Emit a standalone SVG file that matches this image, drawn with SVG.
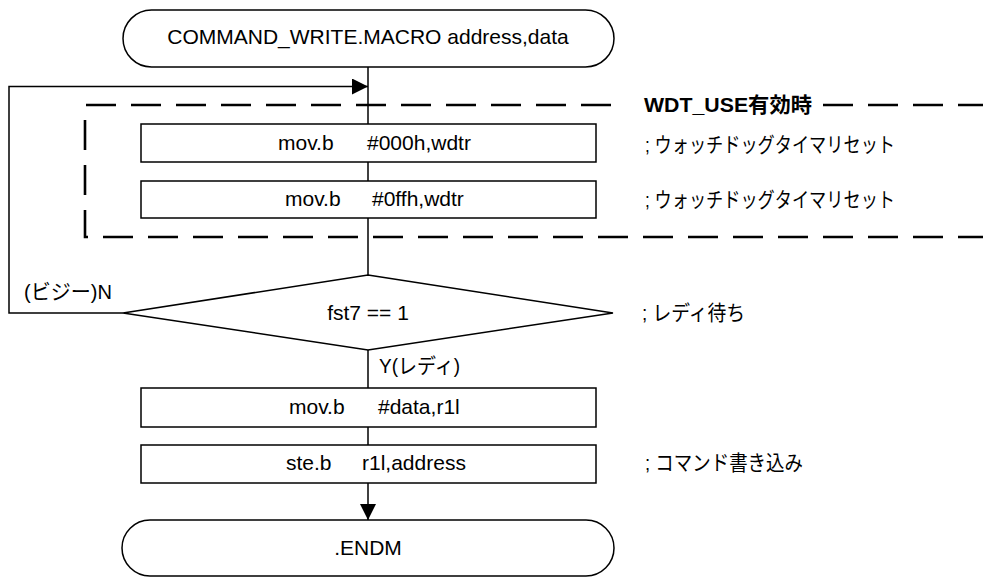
<svg xmlns="http://www.w3.org/2000/svg" width="983" height="578" viewBox="0 0 983 578">
<style>
.shape{fill:#fff;stroke:#000;stroke-width:1.5}
.ln{fill:none;stroke:#000;stroke-width:1.5}
.dash{fill:none;stroke:#000;stroke-width:2.6;stroke-dasharray:30 15}
text{font-family:"Liberation Sans",Arial,"Noto Sans CJK JP",sans-serif;font-size:21px;fill:#000}
.b{font-weight:bold}
</style>
<defs>
<marker id="arr" viewBox="0 0 16 16" refX="16" refY="8" markerWidth="16" markerHeight="16" markerUnits="userSpaceOnUse" orient="auto">
<path d="M0,0 L16,8 L0,16 Z" fill="#000"/>
</marker>
</defs>
<rect width="983" height="578" fill="#fff"/>

<g id="wdt-region">
<line class="dash" x1="86" y1="105" x2="622" y2="105"/>
<line class="dash" x1="823" y1="105" x2="983" y2="105"/>
<path class="dash" d="M85,120 L85,237 L983,237"/>
<text class="b" x="644" y="112" textLength="168" lengthAdjust="spacingAndGlyphs">WDT_USE有効時</text>
</g>

<g id="connectors">
<line class="ln" x1="368" y1="67" x2="368" y2="124"/>
<line class="ln" x1="368" y1="162" x2="368" y2="181"/>
<line class="ln" x1="368" y1="218" x2="368" y2="275"/>
<line class="ln" x1="368" y1="350" x2="368" y2="388"/>
<line class="ln" x1="368" y1="427" x2="368" y2="445"/>
<line class="ln" x1="368" y1="483" x2="368" y2="520" marker-end="url(#arr)"/>
<polyline class="ln" points="123,313 9,313 9,86.5 368,86.5" marker-end="url(#arr)"/>
<text x="24" y="299" textLength="88" lengthAdjust="spacingAndGlyphs">(ビジー)N</text>
<text x="379" y="373" textLength="81" lengthAdjust="spacingAndGlyphs">Y(レディ)</text>
</g>

<g id="start">
<rect class="shape" x="123" y="10" width="491" height="57" rx="28.5" ry="28.5"/>
<text x="368" y="44" text-anchor="middle">COMMAND_WRITE.MACRO address,data</text>
</g>

<g id="wdt1">
<rect class="shape" x="141" y="124" width="455" height="38"/>
<text y="150"><tspan x="278">mov.b</tspan><tspan x="367">#000h,wdtr</tspan></text>
<text x="645" y="152" textLength="250" lengthAdjust="spacingAndGlyphs">; ウォッチドッグタイマリセット</text>
</g>

<g id="wdt2">
<rect class="shape" x="141" y="181" width="455" height="37"/>
<text y="206"><tspan x="285">mov.b</tspan><tspan x="372">#0ffh,wdtr</tspan></text>
<text x="645" y="207" textLength="250" lengthAdjust="spacingAndGlyphs">; ウォッチドッグタイマリセット</text>
</g>

<g id="decision">
<polygon class="shape" points="368,275 613,313 368,350 123,313"/>
<text x="368" y="320" text-anchor="middle">fst7 == 1</text>
<text x="642" y="320" textLength="103" lengthAdjust="spacingAndGlyphs">; レディ待ち</text>
</g>

<g id="movdata">
<rect class="shape" x="141" y="388" width="455" height="39"/>
<text y="414"><tspan x="289">mov.b</tspan><tspan x="378">#data,r1l</tspan></text>
</g>

<g id="store">
<rect class="shape" x="141" y="445" width="455" height="38"/>
<text y="470"><tspan x="286">ste.b</tspan><tspan x="362">r1l,address</tspan></text>
<text x="645" y="470" textLength="158" lengthAdjust="spacingAndGlyphs">; コマンド書き込み</text>
</g>

<g id="end">
<rect class="shape" x="122" y="520" width="492" height="56" rx="28" ry="28"/>
<text x="368" y="555" text-anchor="middle">.ENDM</text>
</g>
</svg>
